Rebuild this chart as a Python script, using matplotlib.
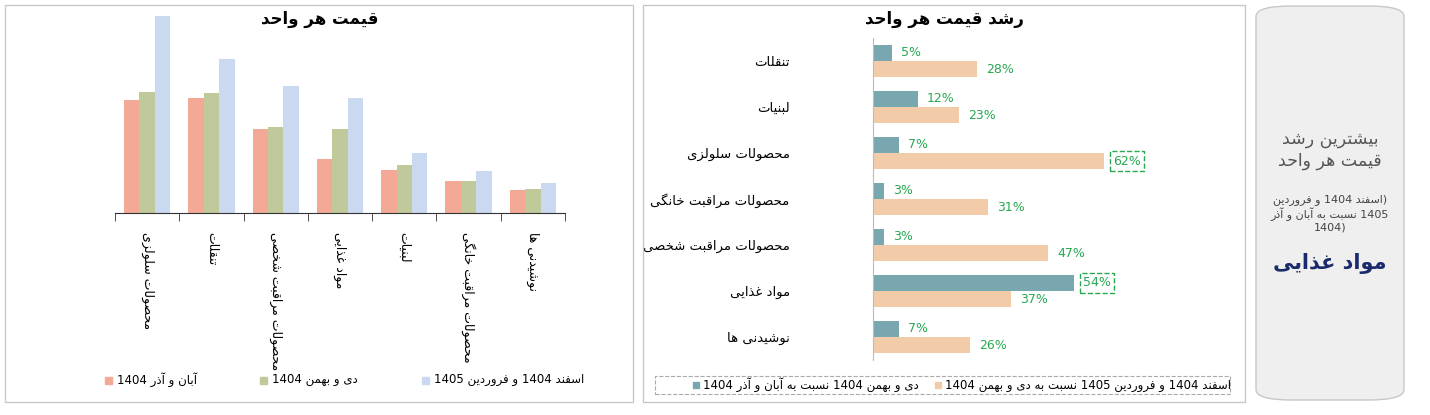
import re
import matplotlib.pyplot as plt
from matplotlib.patches import Rectangle, FancyBboxPatch

plt.rcParams['font.family'] = ['DejaVu Sans', 'Noto Sans']

# Minimal Persian shaping: (isolated, final, initial, medial); 2-tuple = joins only to the right
FORMS = {
    'ا': (0xFE8D, 0xFE8E), 'آ': (0xFE81, 0xFE82), 'د': (0xFEA9, 0xFEAA), 'ذ': (0xFEAB, 0xFEAC),
    'ر': (0xFEAD, 0xFEAE), 'ز': (0xFEAF, 0xFEB0), 'و': (0xFEED, 0xFEEE),
    'ب': (0xFE8F, 0xFE90, 0xFE91, 0xFE92), 'ت': (0xFE95, 0xFE96, 0xFE97, 0xFE98),
    'ح': (0xFEA1, 0xFEA2, 0xFEA3, 0xFEA4), 'خ': (0xFEA5, 0xFEA6, 0xFEA7, 0xFEA8),
    'س': (0xFEB1, 0xFEB2, 0xFEB3, 0xFEB4), 'ش': (0xFEB5, 0xFEB6, 0xFEB7, 0xFEB8),
    'ص': (0xFEB9, 0xFEBA, 0xFEBB, 0xFEBC), 'غ': (0xFECD, 0xFECE, 0xFECF, 0xFED0),
    'ف': (0xFED1, 0xFED2, 0xFED3, 0xFED4), 'ق': (0xFED5, 0xFED6, 0xFED7, 0xFED8),
    'ل': (0xFEDD, 0xFEDE, 0xFEDF, 0xFEE0), 'م': (0xFEE1, 0xFEE2, 0xFEE3, 0xFEE4),
    'ن': (0xFEE5, 0xFEE6, 0xFEE7, 0xFEE8), 'ه': (0xFEE9, 0xFEEA, 0xFEEB, 0xFEEC),
    'ی': (0xFBFC, 0xFBFD, 0xFBFE, 0xFBFF), 'گ': (0xFB92, 0xFB93, 0xFB94, 0xFB95),
    'ک': (0xFB8E, 0xFB8F, 0xFB90, 0xFB91),
}
MIRROR = {'(': ')', ')': '('}


def fa(text):
    out = []
    for i, c in enumerate(text):
        if c not in FORMS:
            out.append(c)
            continue
        f = FORMS[c]
        prev = text[i - 1] if i > 0 else ''
        nxt = text[i + 1] if i + 1 < len(text) else ''
        jp = prev in FORMS and len(FORMS[prev]) == 4
        jn = len(f) == 4 and nxt in FORMS
        if jp and jn:
            out.append(chr(f[3]))
        elif jp:
            out.append(chr(f[1]))
        elif jn:
            out.append(chr(f[2]))
        else:
            out.append(chr(f[0]))
    s = ''.join(out)[::-1]
    s = re.sub(r'[0-9%]+', lambda m: m.group(0)[::-1], s)
    return ''.join(MIRROR.get(c, c) for c in s)


# ---- data ----
cats_left = ['محصولات سلولزی', 'تنقلات', 'محصولات مراقبت شخصی', 'مواد غذایی',
             'لبنیات', 'محصولات مراقبت خانگی', 'نوشیدنی ها']
aban_azar = [113, 115, 84, 54, 43, 32, 23]
dey_bahman = [121, 120, 86, 84, 48, 32, 24]
esfand_farvardin = [197, 154, 127, 115, 60, 42, 30]
series_names = ['آبان و آذر 1404', 'دی و بهمن 1404', 'اسفند 1404 و فروردین 1405']

cats_right = ['تنقلات', 'لبنیات', 'محصولات سلولزی', 'محصولات مراقبت خانگی',
              'محصولات مراقبت شخصی', 'مواد غذایی', 'نوشیدنی ها']
growth_prev = [5, 12, 7, 3, 3, 54, 7]
growth_total = [28, 23, 62, 31, 47, 37, 26]
growth_names = ['دی و بهمن 1404 نسبت به آبان و آذر 1404',
                'اسفند 1404 و فروردین 1405 نسبت به دی و بهمن 1404']

W, H = 1430, 415
fig = plt.figure(figsize=(14.3, 4.15), dpi=100)
fig.patch.set_facecolor('white')


def fx(x): return x / W
def fy(y): return 1 - y / H


# panel borders
for x0, x1 in [(5, 633), (643, 1245)]:
    fig.patches.append(Rectangle((fx(x0), fy(402)), fx(x1 - x0), (402 - 5) / H,
                                 transform=fig.transFigure, fill=False, ec='#c8c8c8', lw=1))
fig.patches.append(FancyBboxPatch((fx(1256), fy(400)), fx(148), 394 / H,
                                  boxstyle='round,pad=0,rounding_size=0.025',
                                  transform=fig.transFigure, fc='#efefef', ec='#c8c8c8', lw=1))

# ---- left chart ----
c1, c2, c3 = '#F4A896', '#BFC99A', '#C9D9F0'
ax = fig.add_axes([fx(115), fy(213), fx(450), 198 / H])
x = range(len(cats_left))
w = 0.24
ax.bar([i - w for i in x], aban_azar, w, color=c1)
ax.bar(list(x), dey_bahman, w, color=c2)
ax.bar([i + w for i in x], esfand_farvardin, w, color=c3)
ax.set_xlim(-0.5, len(cats_left) - 0.5)
ax.set_ylim(0, 198)
for s in ['top', 'right', 'left']:
    ax.spines[s].set_visible(False)
ax.spines['bottom'].set_color('#333333')
ax.set_yticks([])
ax.set_xticks([i - 0.5 for i in range(len(cats_left) + 1)], minor=True)
ax.tick_params(axis='x', which='minor', length=6, color='#333333')
ax.set_xticks(list(x))
ax.set_xticklabels([fa(c) for c in cats_left], rotation=-90, fontsize=9, va='top')
ax.tick_params(axis='x', which='major', length=0, pad=14)
fig.text(fx(320), fy(19), fa('قیمت هر واحد'), ha='center', va='center', fontsize=12, fontweight='bold')
for (lx, col, name) in [(105, c1, series_names[0]), (260, c2, series_names[1]), (422, c3, series_names[2])]:
    fig.patches.append(Rectangle((fx(lx), fy(384)), fx(7), 7 / H, transform=fig.transFigure, color=col))
    fig.text(fx(lx + 12), fy(380), fa(name), ha='left', va='center', fontsize=8.5)

# ---- right chart ----
teal, peach, green = '#79A7B0', '#F2CBA8', '#27A851'
ax2 = fig.add_axes([fx(873), fy(360), fx(357), 322 / H])
ys = list(range(len(cats_right)))
bh = 0.35
ax2.barh([y - bh / 2 for y in ys], growth_prev, bh, color=teal)
ax2.barh([y + bh / 2 for y in ys], growth_total, bh, color=peach)
ax2.set_ylim(len(cats_right) - 0.5, -0.5)
ax2.set_xlim(0, 96)
for s in ['top', 'right', 'bottom']:
    ax2.spines[s].set_visible(False)
ax2.spines['left'].set_color('#bbbbbb')
ax2.set_xticks([])
ax2.set_yticks(ys)
ax2.set_yticklabels([fa(c) for c in cats_right], fontsize=9.5)
ax2.tick_params(axis='y', length=0, pad=60)
best_prev = max(growth_prev)
best_total = max(growth_total)
for y, a, b in zip(ys, growth_prev, growth_total):
    for v, yy, best in [(a, y - bh / 2, best_prev), (b, y + bh / 2, best_total)]:
        box = dict(boxstyle='square,pad=0.25', fc='none', ec=green, ls='--', lw=1) if v == best else None
        ax2.text(v + 2.5, yy, f'{v}%', va='center', ha='left', fontsize=9, color=green, bbox=box)
fig.text(fx(944), fy(19), fa('رشد قیمت هر واحد'), ha='center', va='center', fontsize=12, fontweight='bold')
fig.patches.append(Rectangle((fx(655), fy(394)), fx(575), 18 / H, transform=fig.transFigure,
                             fill=False, ec='#aaaaaa', ls='--', lw=0.8))
for (lx, col, name) in [(693, teal, growth_names[0]), (935, peach, growth_names[1])]:
    fig.patches.append(Rectangle((fx(lx), fy(388)), fx(6), 6 / H, transform=fig.transFigure, color=col))
    fig.text(fx(lx + 10), fy(385), fa(name), ha='left', va='center', fontsize=8.5)

# ---- side card ----
fig.text(fx(1330), fy(150), fa('بیشترین رشد') + '\n' + fa('قیمت هر واحد'), ha='center', va='center',
         fontsize=12.5, color='#555555', linespacing=1.2)
fig.text(fx(1330), fy(213), fa('(اسفند 1404 و فروردین') + '\n' + fa('1405 نسبت به آبان و آذر') + '\n' + fa('(1404'),
         ha='center', va='center', fontsize=8, color='#444444', linespacing=1.2)
fig.text(fx(1330), fy(263), fa('مواد غذایی'), ha='center', va='center', fontsize=15,
         fontweight='bold', color='#1a2a6c')

fig.savefig('out.png', dpi=100)
